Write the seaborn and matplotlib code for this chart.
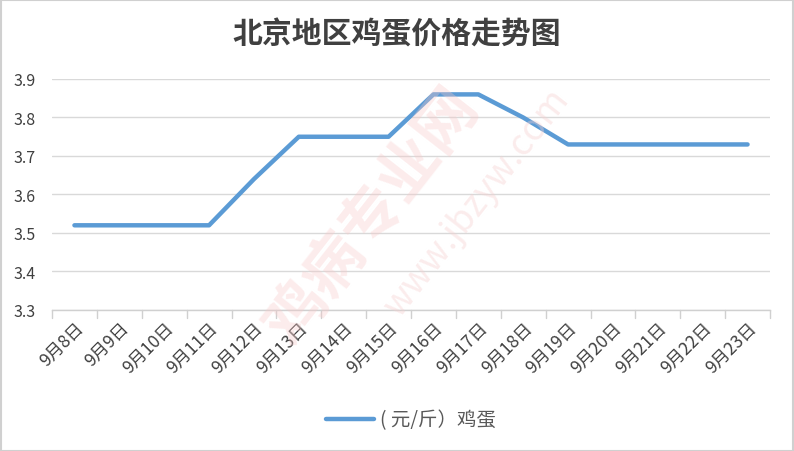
import matplotlib
matplotlib.use("Agg")
import matplotlib.pyplot as plt
import seaborn as sns
import pandas as pd

dates = ["9月8日", "9月9日", "9月10日", "9月11日", "9月12日", "9月13日", "9月14日", "9月15日",
         "9月16日", "9月17日", "9月18日", "9月19日", "9月20日", "9月21日", "9月22日", "9月23日"]
prices = [3.52, 3.52, 3.52, 3.52, 3.64, 3.75, 3.75, 3.75,
          3.86, 3.86, 3.80, 3.73, 3.73, 3.73, 3.73, 3.73]
series_name = "( 元/斤）鸡蛋"
title = "北京地区鸡蛋价格走势图"
yticks = [3.3, 3.4, 3.5, 3.6, 3.7, 3.8, 3.9]

sns.set_theme(style="white")
plt.rcParams['font.family'] = ['Noto Sans CJK SC', 'DejaVu Sans']

df = pd.DataFrame({"date": dates, "price": prices, "pos": range(len(dates))})

fig = plt.figure(figsize=(7.94, 4.52), dpi=100)
ax = fig.add_axes([52/794, 1-311/452, (770-52)/794, (311-80)/452])

# watermark
fig.text(0.47, 0.52, "鸡病专业网", fontsize=44, color="#f8c8c8", alpha=0.35, rotation=52,
         ha="center", va="center", fontweight="bold", zorder=0)
fig.text(0.60, 0.55, "www.jbzyw.com", fontsize=26, color="#f5d0d0", alpha=0.4, rotation=52,
         ha="center", va="center", zorder=0)

sns.lineplot(data=df, x="pos", y="price", ax=ax, color="#5B9BD5", linewidth=3.2,
             label=series_name, solid_capstyle="round", zorder=3)

ax.set_xlim(-0.5, len(dates) - 0.5)
ax.set_ylim(3.3, 3.9)
ax.set_yticks(yticks)
ax.set_yticklabels([f"{v:.1f}" for v in yticks], fontsize=11.5, color="#404040")
ax.set_xticks(range(len(dates)))
ax.set_xticklabels(dates, rotation=45, ha="right", rotation_mode="anchor",
                   fontsize=12.5, color="#404040")
ax.tick_params(axis="x", length=0, pad=6)
ax.tick_params(axis="y", length=0, pad=12)
ax.grid(axis="y", color="#d9d9d9", linewidth=1)
ax.set_xlabel("")
ax.set_ylabel("")
for s in ["top", "right", "left"]:
    ax.spines[s].set_visible(False)
ax.spines["bottom"].set_color("#d0d0d0")
ax.spines["bottom"].set_linewidth(1)
# boundary tick marks
for b in range(len(dates) + 1):
    ax.plot([b - 0.5, b - 0.5], [3.3, 3.3 - 0.6 * 8 / 231], color="#d0d0d0", lw=1,
            clip_on=False, zorder=2)
ax.set_facecolor("none")

fig.suptitle(title, x=0.5, y=1 - 35/452, va="center", fontsize=21.5, color="#404040",
             fontweight="semibold")

leg = ax.legend(loc="center", bbox_to_anchor=(0.5, -(421-311)/231),
                frameon=False, fontsize=14, handlelength=2.5, handletextpad=0.3,
                labelcolor="#595959")

# figure border
fig.patches.append(plt.Rectangle((0.001, 0.001), 0.998, 0.997, transform=fig.transFigure,
                                 fill=False, edgecolor="#d0d0d0", linewidth=1.5))

fig.savefig("out.png", dpi=100)
